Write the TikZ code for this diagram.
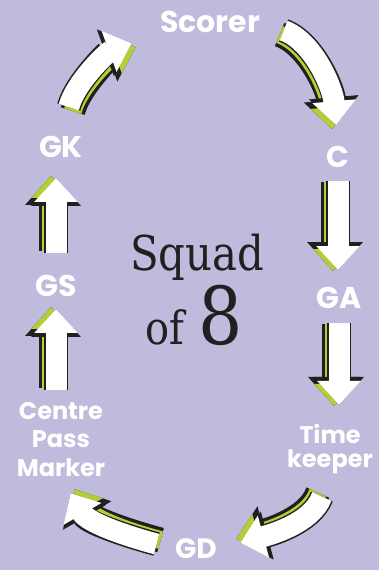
\documentclass[tikz,border=0pt]{standalone}
\usepackage{fontspec}
\usepackage{tikz}
\usetikzlibrary{arrows.meta,calc}
\newfontfamily\lblfont{Poppins}
\newfontfamily\squadfont{DejaVu Serif}[FakeStretch=0.87]
\definecolor{bgpurple}{RGB}{190,187,221}
\definecolor{limegreen}{RGB}{178,208,52}
\definecolor{inkblack}{RGB}{32,32,32}

\begin{document}
\begin{tikzpicture}[x=1pt, y=1pt,
    lbl/.style={text=white, inner sep=0pt, font=\lblfont\bfseries\fontsize{30}{30}\selectfont},
    smalllbl/.style={text=white, inner sep=0pt, align=center},
    hand/.style={text=inkblack, inner sep=0pt},
    sketch/.style 2 args={draw=white, line width=21pt, -{Triangle[width=42pt,length=24pt]},
        preaction={draw=inkblack, line width=25pt, -{Triangle[width=50pt,length=29pt]}, transform canvas={shift={(#1,#2)}}},
        preaction={draw=limegreen, line width=18pt, -{Triangle[width=38pt,length=22pt]}, transform canvas={shift={(#1,#2)}}},
        preaction={draw=inkblack, line width=24pt, -{Triangle[width=48pt,length=28pt]}}}]

    \path[use as bounding box, fill=bgpurple] (0,0) rectangle (379,570);

    % positions round the squad
    \node[lbl] (scorer) at (210,548) {Scorer};
    \node[lbl] (c) at (338,413) {C};
    \node[lbl] (ga) at (339,272) {GA};
    \node[smalllbl, anchor=north, font=\lblfont\bfseries\fontsize{24}{24}\selectfont] (tk) at (330,146) {Time\\keeper};
    \node[lbl, font=\lblfont\bfseries\fontsize{28}{28}\selectfont] (gd) at (196,21) {GD};
    \node[smalllbl, anchor=north, font=\lblfont\bfseries\fontsize{24}{28.5}\selectfont] (cpm) at (61,168) {Centre\\Pass\\Marker};
    \node[lbl] (gs) at (56,284) {GS};
    \node[lbl] (gk) at (61,423) {GK};

    % middle
    \node[hand, anchor=base, font=\squadfont\fontsize{48}{48}\selectfont] (squad) at (197,299) {Squad};
    \node[hand, anchor=base east, font=\squadfont\fontsize{46}{46}\selectfont] (of) at (185,225) {of};
    \node[hand, anchor=base west, font=\squadfont\fontsize{80}{80}\selectfont] (eight) at (198,225) {8};

    % rotation arrows
    \draw[sketch={4}{-4}, shorten <=30pt, shorten >=30pt] (gk.north) to[out=75, in=200] (scorer.south west);
    \draw[sketch={-4}{-4}, shorten <=25pt, shorten >=21pt] (scorer.east) to[out=-20, in=95] (c.north);
    \draw[sketch={-5}{-1}, shorten <=13pt, shorten >=17pt] (c.south) -- (c.south |- ga.north);
    \draw[sketch={-5}{-1}, shorten <=14pt, shorten >=19pt] (ga.south) -- (ga.south |- tk.north);
    \draw[sketch={-4}{4}, shorten <=24pt, shorten >=24pt] (tk.south) to[out=-110, in=15] (gd.east);
    \draw[sketch={4}{4}, shorten <=19pt, shorten >=19pt] (gd.west) to[out=165, in=-60] (cpm.south);
    \draw[sketch={-5}{2}, shorten <=12pt, shorten >=12pt] (gs.south |- cpm.north) -- (gs.south);
    \draw[sketch={-5}{2}, shorten <=22pt, shorten >=20pt] (gs.north) -- (gs.north |- gk.south);
\end{tikzpicture}
\end{document}
